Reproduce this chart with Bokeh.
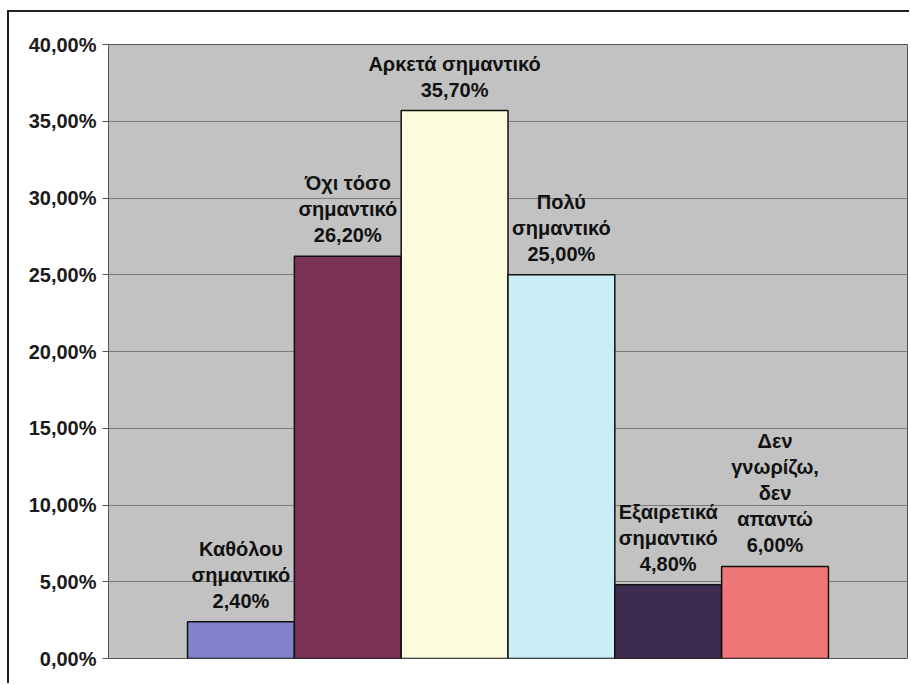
from bokeh.plotting import figure
from bokeh.models import Range1d, FixedTicker, ColumnDataSource
from bokeh.core.properties import value
from bokeh.embed import file_html
from bokeh.resources import INLINE

# ---- data ----
categories = ["Καθόλου σημαντικό", "Όχι τόσο σημαντικό", "Αρκετά σημαντικό",
              "Πολύ σημαντικό", "Εξαιρετικά σημαντικό", "Δεν γνωρίζω, δεν απαντώ"]
label_lines = [["Καθόλου", "σημαντικό"], ["Όχι τόσο", "σημαντικό"], ["Αρκετά σημαντικό"],
               ["Πολύ", "σημαντικό"], ["Εξαιρετικά", "σημαντικό"], ["Δεν", "γνωρίζω,", "δεν", "απαντώ"]]
values = [2.4, 26.2, 35.7, 25.0, 4.8, 6.0]
colors = ["#8282cc", "#7a3356", "#fbfbdd", "#c9eef6", "#3e2c50", "#f07777"]
y_ticks = [0, 5, 10, 15, 20, 25, 30, 35, 40]
y_tick_labels = ["0,00%", "5,00%", "10,00%", "15,00%", "20,00%", "25,00%", "30,00%", "35,00%", "40,00%"]

FONT = "Liberation Sans"

xs = list(range(1, len(values) + 1))

p = figure(width=902, height=673, output_backend="svg", toolbar_location=None,
           x_range=Range1d(-0.24, 7.24), y_range=Range1d(0, 40),
           min_border_left=99, min_border_right=4, min_border_top=32, min_border_bottom=27,
           margin=(10, 0, 0, 7),
           styles={"border-top": "2px solid #222222", "border-left": "2px solid #222222"})

p.background_fill_color = "#c2c2c2"
p.border_fill_color = "white"
p.outline_line_color = "#555555"
p.outline_line_width = 1

p.xaxis.visible = False
p.xgrid.visible = False

p.ygrid.ticker = FixedTicker(ticks=y_ticks)
p.ygrid.grid_line_color = "#7a7a7a"
p.ygrid.grid_line_width = 1

yax = p.yaxis[0]
yax.ticker = FixedTicker(ticks=y_ticks)
yax.major_label_overrides = {t: l for t, l in zip(y_ticks, y_tick_labels)}
yax.major_label_text_font = FONT
yax.major_label_text_font_style = "bold"
yax.major_label_text_font_size = "20px"
yax.major_label_text_color = "#1a1a1a"
yax.major_tick_out = 6
yax.major_tick_in = 0
yax.minor_tick_out = 0
yax.minor_tick_in = 0
yax.major_tick_line_color = "#555555"
yax.axis_line_color = "#555555"
yax.major_label_standoff = 6

src = ColumnDataSource(dict(x=xs, top=values, color=colors))
p.vbar(x="x", top="top", bottom=0, width=1.0, fill_color="color",
       line_color="#111111", line_width=1.5, source=src)

# labels: each line as a separate text item, stacked upward from bar top
tx, ty, tt, toff = [], [], [], []
for x, v, lines in zip(xs, values, label_lines):
    all_lines = lines + [("%.2f%%" % v).replace(".", ",")]
    n = len(all_lines)
    for i, s in enumerate(all_lines):
        tx.append(x)
        ty.append(v)
        tt.append(s)
        toff.append(-(21 + (n - 1 - i) * 26))
lsrc = ColumnDataSource(dict(x=tx, y=ty, text=tt, yoff=toff))
p.text(x="x", y="y", text="text", y_offset="yoff", source=lsrc,
       text_align="center", text_baseline="alphabetic",
       text_font=value(FONT), text_font_style="bold", text_font_size="20px",
       text_color="#111111")

open("out.html", "w").write(file_html(p, INLINE))
